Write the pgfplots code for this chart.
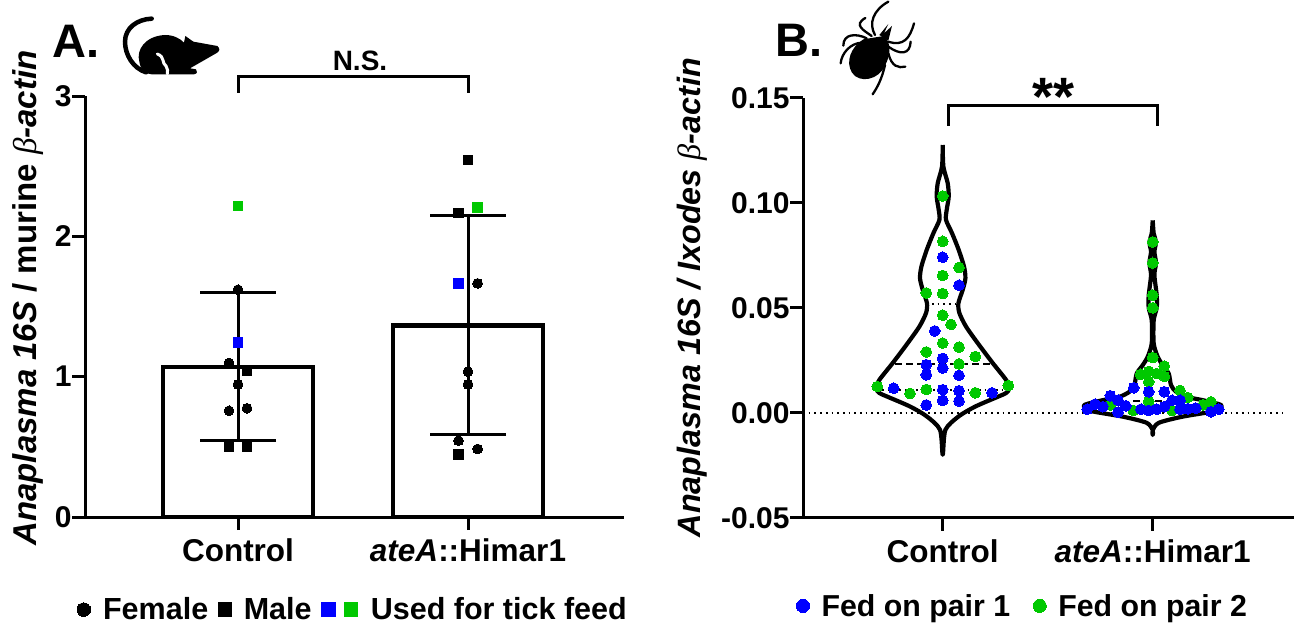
\documentclass[border=0pt]{standalone}
\usepackage{fontspec}
\setmainfont{Liberation Sans}
\newfontfamily\betafont{Liberation Serif}
\usepackage{pgfplots}
\pgfplotsset{compat=1.18}
\definecolor{pblue}{RGB}{0,0,255}
\definecolor{pgreen}{RGB}{0,200,0}
\newcommand{\bet}{{\betafont\mdseries\itshape β}}
\pgfplotsset{
  base/.style={
    scale only axis, clip=false, axis lines=left,
    axis line style={-,line width=3pt},
    every tick/.style={black,line width=3pt},
    tick align=outside, major tick length=13pt,
    tick label style={font=\fontsize{31.5}{34}\selectfont\bfseries},
    yticklabel style={font=\fontsize{30}{34}\selectfont\bfseries,xshift=3pt},
    scaled y ticks=false,
    legend cell align=left,
  },
  c/.style={only marks,mark=*,mark size=5.4pt,color=#1,mark options={draw=#1,fill=#1,line width=0pt}},
  s/.style={only marks,mark=square*,mark size=4.8pt,color=#1,mark options={draw=#1,fill=#1,line width=0pt}},
  legend image code/.code={\draw[#1] plot coordinates {(0pt,0pt)};},
}
\begin{document}
\begin{tikzpicture}[x=1pt,y=1pt]
\path[use as bounding box] (0,0) rectangle (1297,624);
% ---------- panel A
\begin{axis}[base, at={(85pt,107pt)}, anchor=south west, width=539pt, height=421pt,
  xmin=85, xmax=624, ymin=0, ymax=3, ytick={0,1,2,3}, yticklabels={0,1,2,3},
  xtick={238,468}, xticklabels={Control,\textit{ateA}::Himar1},
  xticklabel style={yshift=-5pt},
  ylabel={\textit{Anaplasma 16S} / murine \bet\textit{-actin}},
  every axis y label/.style={at={(axis description cs:-0.105,0.52)},rotate=90,anchor=center,font=\fontsize{33}{36}\selectfont\bfseries},
  legend columns=4,
  legend style={at={(axis description cs:-0.0152,-0.22)},anchor=west,draw=none,fill=none,inner sep=0pt,
    nodes={inner ysep=0pt},
    font=\fontsize{30.5}{34}\selectfont\bfseries,
    /tikz/every even column/.append style={column sep=8pt}},
]
\addplot[forget plot,ybar,bar shift=0pt,bar width=150pt,draw=black,fill=white,line width=4.5pt]
  coordinates {(238,1.07)(468,1.365)};
\addplot[forget plot,only marks,mark=none,draw=none,
  error bars/.cd,y dir=both,y explicit,error mark=-,
  error bar style={line width=3pt,black},
  error mark options={mark size=38pt,line width=3pt,black,rotate=90}]
  coordinates {(238,1.07)+-(0,0.527)(468,1.37)+-(0,0.781)};
\addplot[forget plot,c=black,mark size=4.9pt] coordinates {(238,1.62)(229,1.097)(238,0.945)(229,0.757)(247,0.775)
  (477.6,1.665)(468,1.036)(468,0.945)(458.5,0.544)(477.6,0.485)};
\addplot[forget plot,s=black] coordinates {(247,1.045)(229,0.5)(247,0.5)(468,2.545)(458.5,2.165)(458.5,0.447)};
\addplot[forget plot,s=pgreen] coordinates {(238,2.217)(477.6,2.207)};
\addplot[forget plot,s=pblue] coordinates {(238,1.245)(458.5,1.665)};
\addlegendimage{c=black,mark size=6.8pt}\addlegendentry{\hspace*{10.5pt}Female}
\addlegendimage{s=black,mark size=6.8pt}\addlegendentry{\hspace*{10pt}Male}
\addlegendimage{s=pblue,mark size=6.8pt}\addlegendentry{\hspace*{-12pt}}
\addlegendimage{s=pgreen,mark size=6.8pt}\addlegendentry{\hspace*{11pt}Used for tick feed}
\end{axis}
% ---------- panel B
\begin{axis}[base, at={(803pt,106.3pt)}, anchor=south west, width=491pt, height=419.7pt,
  xmin=803, xmax=1294, ymin=-0.05, ymax=0.15, ytick={-0.05,0,0.05,0.10,0.15},
  yticklabels={-0.05,0.00,0.05,0.10,0.15},
  xtick={942.7,1152.7}, xticklabels={Control,\textit{ateA}::Himar1},
  xticklabel style={yshift=-5pt},
  ylabel={\textit{Anaplasma 16S / Ixodes} \bet\textit{-actin}},
  every axis y label/.style={at={(axis description cs:-0.226,0.5247)},rotate=90,anchor=center,font=\fontsize{32.3}{36}\selectfont\bfseries},
  legend columns=4,
  legend style={at={(axis description cs:-0.0139,-0.21)},anchor=west,draw=none,fill=none,inner sep=0pt,
    nodes={inner ysep=0pt},
    font=\fontsize{30.3}{34}\selectfont\bfseries,
    /tikz/every even column/.append style={column sep=21pt}},
]
\addplot[forget plot,black,line width=1.7pt,dash pattern=on 1.7pt off 4pt] coordinates {(803,0)(1283,0)};
% violin 1
\addplot[forget plot,smooth,tension=0.45,black,line width=4.2pt,line join=round] coordinates {
(942.7,.1276)(943.4,.1173)(947.7,.1094)(948.7,.1030)(946.7,.0967)(946,.0919)(952,.0856)(958.7,.0776)
(964,.0697)(965.4,.0641)(962.7,.0586)(958.4,.0522)(959.4,.0475)(966,.0411)(977.7,.0332)(992.7,.0237)
(1006,.0157)(1009.4,.0117)(1006,.0094)(998.7,.0078)(975.4,.0030)(958.7,-.0017)(945.4,-.0081)(942.7,-.0200)
(940,-.0081)(926.7,-.0017)(910,.0030)(886.7,.0078)(879.4,.0094)(876,.0117)(879.4,.0157)(892.7,.0237)
(907.7,.0332)(919.4,.0411)(926,.0475)(927,.0522)(922.7,.0586)(920,.0641)(921.4,.0697)(926.7,.0776)
(933.4,.0856)(939.4,.0919)(938.7,.0967)(936.7,.1030)(937.7,.1094)(942,.1173)(942.7,.1276)};
% violin 2
\addplot[forget plot,smooth,tension=0.45,black,line width=4.2pt,line join=round] coordinates {
(1152.7,.0917)(1153.7,.0854)(1156,.0814)(1154.4,.0767)(1156,.0714)(1154.4,.0656)(1156.7,.0560)(1156.7,.0500)
(1153.7,.0441)(1153.7,.0330)(1157.7,.0267)(1162.7,.0227)(1168.7,.0187)(1171,.0132)(1176,.0100)(1186,.0076)
(1202.7,.0060)(1221,.0037)(1216,.0010)(1182,-.0019)(1158.7,-.0048)(1152.7,-.0083)(1152.7,-.0106)
(1152.7,-.0083)(1146.7,-.0048)(1123.4,-.0019)(1089.4,.0010)(1084.4,.0037)(1102.7,.0060)(1119.4,.0076)(1129.4,.0100)
(1134.4,.0132)(1136.7,.0187)(1142.7,.0227)(1147.7,.0267)(1151.7,.0330)(1151.7,.0441)(1148.7,.0500)(1148.7,.0560)
(1151,.0656)(1149.4,.0714)(1151,.0767)(1149.4,.0814)(1151.7,.0854)(1152.7,.0917)};
% quartiles
\addplot[forget plot,black,line width=2.2pt,dash pattern=on 7pt off 4pt] coordinates {(895,.0233)(990,.0233)};
\addplot[forget plot,black,line width=1.7pt,dash pattern=on 1.7pt off 4pt] coordinates {(932,.0520)(955,.0520)};
\addplot[forget plot,black,line width=1.7pt,dash pattern=on 1.7pt off 4pt] coordinates {(882,.0110)(1003,.0110)};
\addplot[forget plot,black,line width=2.2pt,dash pattern=on 7pt off 4pt] coordinates {(1133,.0056)(1163,.0056)};
% points
\addplot[forget plot,c=pgreen] coordinates {
(942.7,.1033)(942.7,.0817)(959,.0692)(942.7,.0654)(926.3,.0571)(942.7,.0568)(942.7,.0465)(951,.0421)
(942.7,.0332)(959,.0313)(926.3,.0290)(975.3,.0268)(959,.0233)(877.3,.0125)(910,.0092)(926.3,.0111)
(975.3,.0095)(1008.3,.0130)};
\addplot[forget plot,c=pblue] coordinates {
(942.7,.0741)(959,.0608)(934.7,.0390)(942.7,.0259)(926.3,.0229)(942.7,.0213)(926.3,.0181)(959,.0178)
(893.7,.0117)(942.7,.0110)(959,.0105)(992,.0095)(926.3,.0037)(942.7,.0059)(959,.0056)};
\addplot[forget plot,c=pgreen] coordinates {
(1152.7,.0814)(1152.7,.0714)(1152.7,.0560)(1152.7,.0500)(1152.7,.0263)(1164.3,.0222)(1140.7,.0183)
(1148.7,.0197)(1156.7,.0187)(1164.3,.0173)(1148.7,.0148)(1180,.0106)(1187.7,.0073)(1148.7,.0054)
(1110.3,.0037)(1133.3,.0011)(1172,.0011)(1203.3,.0038)(1211,.0052)};
\addplot[forget plot,c=pblue] coordinates {
(1133.7,.0119)(1148.7,.0100)(1164.3,.0100)(1110.3,.0081)(1118,.0060)(1125.7,.0033)(1095,.0041)
(1102.7,.0029)(1087.3,.0017)(1118,.0003)(1172,.0059)(1180,.0060)(1141,.0017)(1148.7,.0011)
(1156.7,.0017)(1164.3,.0029)(1180,.0017)(1187.7,.0019)(1195.7,.0022)(1211,.0005)(1218.7,.0017)};
\addlegendimage{c=pblue,mark size=6.6pt}\addlegendentry{\hspace*{10pt}Fed on pair 1}
\addlegendimage{c=pgreen,mark size=6.6pt}\addlegendentry{\hspace*{10pt}Fed on pair 2}
\end{axis}
% ---------- annotations, in reference pixels
\begin{scope}[shift={(0,624)},y=-1pt]
\node[anchor=base west,inner sep=0pt,font=\fontsize{47}{50}\selectfont\bfseries] at (52,58) {A.};
\node[anchor=base west,inner sep=0pt,font=\fontsize{47}{50}\selectfont\bfseries] at (775,57) {B.};
\node[anchor=base,inner sep=0pt,font=\fontsize{28}{30}\selectfont\bfseries] at (360,71) {N.S.};
\node[anchor=base,inner sep=0pt,font=\fontsize{54}{56}\selectfont\bfseries] at (1053,116) {**};
\draw[line width=3pt,line cap=butt,line join=miter] (238,93)--(238,77)--(468,77)--(468,93);
\draw[line width=3pt,line cap=butt,line join=miter] (948,126)--(948,106)--(1157,106)--(1157,126);
% mouse
\begin{scope}[shift={(110,0)},x=0.3333pt,y=-0.3333pt]
\draw[line width=4.5pt,line cap=round] (125,56) .. controls (80,58) and (45,85) .. (45,125) .. controls (45,165) and (70,205) .. (108,217);
\fill (88,185) .. controls (78,150) and (105,108) .. (165,105) .. controls (190,105) and (210,115) .. (222,128)
  -- (226,108) -- (250,125) -- (322,138) .. controls (330,145) and (330,152) .. (322,158) -- (240,205)
  -- (258,208) .. controls (264,213) and (262,222) .. (252,223) -- (125,223) .. controls (105,222) and (92,210) .. (88,185) -- cycle;
\draw[white,line width=3pt,line cap=round] (142,162) .. controls (165,170) and (155,190) .. (168,198) .. controls (175,205) and (172,215) .. (172,222);
\end{scope}
% tick
\begin{scope}[shift={(760,0)},x=0.3333pt,y=-0.3333pt]
\fill (372,108) .. controls (392,125) and (394,160) .. (376,195) .. controls (358,240) and (298,252) .. (276,218)
  .. controls (256,185) and (272,142) .. (310,118) -- cycle;
\fill (358,105) -- (385,72) -- (372,100) -- (396,78) -- (385,122) -- cycle;
\foreach \p in {
 {(345,105) .. controls (325,70) and (340,30) .. (385,5)},
 {(335,108) .. controls (310,90) and (280,75) .. (316,54)},
 {(320,115) .. controls (290,100) and (250,100) .. (250,137)},
 {(305,128) .. controls (270,130) and (245,160) .. (242,190)},
 {(385,125) .. controls (430,140) and (450,115) .. (462,70)},
 {(385,140) .. controls (420,165) and (450,165) .. (452,125)},
 {(385,160) .. controls (395,200) and (415,205) .. (436,200)},
 {(375,195) .. controls (365,240) and (350,265) .. (338,283)}}
 {\draw[line width=2.3pt,line cap=round] \p;}
\end{scope}
\end{scope}
\end{tikzpicture}
\end{document}
